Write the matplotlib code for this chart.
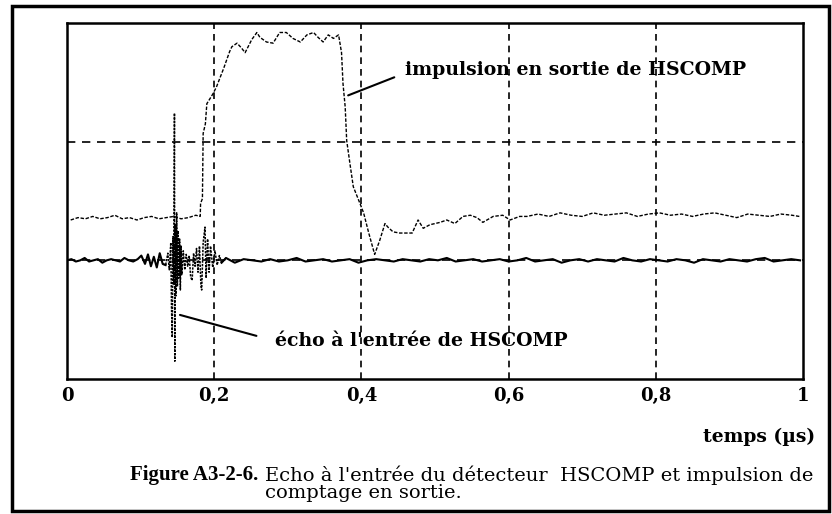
import numpy as np
import matplotlib.pyplot as plt
from matplotlib.patches import Rectangle

# temps en µs, amplitudes en divisions (grille : 3 divisions verticales)
xticks = [0.0, 0.2, 0.4, 0.6, 0.8, 1.0]
xtick_labels = ['0', '0,2', '0,4', '0,6', '0,8', '1']
yticks_grid = [1.0, 2.0]

# impulsion en sortie de HSCOMP
pulse_t = [0.005, 0.015, 0.025, 0.035, 0.045, 0.055, 0.065, 0.075, 0.085, 0.095,
           0.105, 0.115, 0.125, 0.135, 0.145, 0.155, 0.165, 0.175, 0.181,
           0.1815, 0.184, 0.185, 0.188, 0.190, 0.194, 0.198, 0.203, 0.208, 0.213,
           0.217, 0.221,
           0.224, 0.231, 0.237, 0.242, 0.251, 0.258, 0.262, 0.271, 0.280, 0.289,
           0.298, 0.307, 0.317, 0.326, 0.335, 0.341, 0.348, 0.355, 0.362, 0.369,
           0.373, 0.375, 0.378, 0.380, 0.385, 0.389, 0.398, 0.403, 0.410, 0.418,
           0.425, 0.432, 0.436, 0.443, 0.452, 0.462, 0.469, 0.477, 0.484, 0.493,
           0.507, 0.516, 0.527, 0.538, 0.548, 0.557, 0.565, 0.579, 0.592, 0.602,
           0.615, 0.625,
           0.640, 0.655, 0.670, 0.685, 0.700, 0.715, 0.730, 0.745, 0.760, 0.775,
           0.790, 0.805, 0.820, 0.835, 0.850, 0.865, 0.880, 0.895, 0.910, 0.925,
           0.940, 0.955, 0.970, 0.985, 0.995]
pulse_v = [1.34, 1.36, 1.35, 1.37, 1.35, 1.36, 1.38, 1.35, 1.36, 1.34,
           1.36, 1.37, 1.35, 1.36, 1.37, 1.35, 1.36, 1.38, 1.37,
           1.48, 1.52, 2.07, 2.15, 2.32, 2.36, 2.40, 2.46, 2.54, 2.62,
           2.69, 2.76,
           2.80, 2.83, 2.79, 2.75, 2.86, 2.92, 2.88, 2.84, 2.83, 2.92,
           2.92, 2.87, 2.84, 2.90, 2.92, 2.88, 2.84, 2.90, 2.87, 2.90,
           2.75, 2.49, 2.29, 2.01, 1.79, 1.62, 1.48, 1.40, 1.23, 1.05,
           1.17, 1.31, 1.28, 1.24, 1.23, 1.23, 1.23, 1.34, 1.27, 1.30,
           1.32, 1.34, 1.31, 1.37, 1.38, 1.36, 1.32, 1.37, 1.38, 1.34,
           1.37, 1.37,
           1.39, 1.37, 1.40, 1.38, 1.37, 1.40, 1.38, 1.39, 1.40, 1.37,
           1.39, 1.40, 1.38, 1.39, 1.37, 1.39, 1.40, 1.38, 1.36, 1.39,
           1.38, 1.37, 1.39, 1.38, 1.37]

# écho à l'entrée de HSCOMP
echo_t = [0.000, 0.006, 0.012, 0.018, 0.024, 0.030, 0.036, 0.042, 0.048, 0.054,
          0.060, 0.066, 0.072, 0.078, 0.084, 0.090, 0.096, 0.101, 0.106, 0.110,
          0.114, 0.118, 0.122, 0.126, 0.130,
          0.134, 0.137, 0.139, 0.141, 0.142, 0.143, 0.144, 0.145, 0.146, 0.1465,
          0.147, 0.148, 0.149, 0.150, 0.151, 0.152, 0.153, 0.154, 0.155, 0.156,
          0.158, 0.160, 0.162, 0.164, 0.166, 0.168, 0.170, 0.172, 0.174, 0.176,
          0.178, 0.180, 0.182, 0.183, 0.185, 0.1875, 0.189, 0.191, 0.193, 0.195,
          0.198, 0.201, 0.204, 0.207, 0.210,
          0.216, 0.228, 0.240, 0.252, 0.264, 0.276, 0.288, 0.300, 0.312, 0.324,
          0.336, 0.348, 0.360, 0.372, 0.384, 0.396, 0.408, 0.420, 0.432, 0.444,
          0.456, 0.468, 0.480, 0.492, 0.504, 0.516, 0.528, 0.540, 0.552, 0.564,
          0.576, 0.588, 0.600, 0.612, 0.624, 0.636, 0.648, 0.660, 0.672, 0.684,
          0.696, 0.708, 0.720, 0.732, 0.744, 0.756, 0.768, 0.780, 0.792, 0.804,
          0.816, 0.828, 0.840, 0.852, 0.864, 0.876, 0.888, 0.900, 0.912, 0.924,
          0.936, 0.948, 0.960, 0.972, 0.984, 0.996]
echo_v = [1.00, 1.01, 0.99, 1.00, 1.02, 0.99, 1.00, 1.01, 0.98, 1.00,
          1.01, 1.00, 0.99, 1.02, 1.00, 0.99, 1.01, 1.04, 0.97, 1.05,
          0.95, 1.03, 0.94, 1.06, 0.97,
          0.96, 1.06, 0.92, 1.15, 0.60, 0.35, 1.20, 0.80, 2.24, 0.15,
          1.30, 0.70, 1.40, 0.78, 1.25, 0.85, 1.18, 0.75, 1.12, 0.88,
          1.08, 0.92, 1.05, 0.95, 1.04, 0.86, 0.83, 1.06, 0.95, 1.10,
          0.90, 1.12, 0.78, 0.75, 1.15, 1.28, 0.85, 1.18, 0.90, 1.12,
          0.94, 1.08, 0.96, 1.04, 0.98,
          1.02, 0.98, 1.01, 1.00, 0.99, 1.01, 0.99, 1.00, 1.02, 0.99,
          1.00, 1.01, 0.99, 1.00, 1.01, 0.98, 1.00, 1.01, 1.00, 0.99,
          1.01, 1.00, 0.99, 1.01, 1.00, 1.02, 0.99, 1.00, 1.01, 0.99,
          1.00, 1.01, 0.99, 1.00, 1.02, 0.99, 1.00, 1.01, 0.98, 1.00,
          1.01, 0.99, 1.01, 1.00, 0.99, 1.02, 1.00, 0.99, 1.01, 1.00,
          0.99, 1.01, 1.00, 0.98, 1.01, 1.00, 0.99, 1.01, 1.00, 0.99,
          1.01, 1.02, 0.99, 1.00, 1.01, 1.00]

W, H = 832, 514
fig = plt.figure(figsize=(W / 100, H / 100), dpi=100)
ax = fig.add_axes([67 / W, 1 - 379 / H, (803 - 67) / W, (379 - 23) / H])
ax.set_xlim(0, 1)
ax.set_ylim(0, 3)

# grille en pointillés
for t in xticks[1:-1]:
    ax.axvline(t, color='black', lw=1.2, ls=(0, (4, 3)), zorder=1)
for y in yticks_grid:
    ax.axhline(y, color='black', lw=1.2, ls=(0, (5, 4)), zorder=1)

# écho : ligne de base pleine, salve d'oscillations en trait fin pointillé
echo_t = np.array(echo_t)
echo_v = np.array(echo_v)
burst = (echo_t >= 0.130) & (echo_t <= 0.216)
ax.plot(echo_t, np.where(echo_t <= 0.134, echo_v, np.nan), color='black', lw=1.5, zorder=3)
ax.plot(echo_t, np.where(echo_t >= 0.210, echo_v, np.nan), color='black', lw=1.5, zorder=3)
ax.plot(echo_t[burst], echo_v[burst], color='black', lw=1.1, ls=(0, (1.5, 0.8)), zorder=3)

ax.plot(pulse_t, pulse_v, color='black', lw=1.0, ls=(0, (2.5, 1.2)), zorder=3)

for s in ax.spines.values():
    s.set_linewidth(1.8)

ax.set_xticks(xticks)
ax.set_xticklabels(xtick_labels, family='DejaVu Serif', fontweight='bold', fontsize=13)
ax.set_yticks([])
ax.tick_params(axis='x', length=0, pad=6)

bold_font = dict(family='DejaVu Serif', fontweight='bold', fontsize=13.6)
ax.annotate('impulsion en sortie de HSCOMP', xy=(0.382, 2.39), xytext=(0.459, 2.60),
            ha='left', va='center', **bold_font,
            arrowprops=dict(arrowstyle='-', lw=1.5, color='black', relpos=(0, 0.35),
                            shrinkA=6, shrinkB=0))
ax.annotate("écho à l'entrée de HSCOMP", xy=(0.1535, 0.54), xytext=(0.283, 0.32),
            ha='left', va='center', **bold_font,
            arrowprops=dict(arrowstyle='-', lw=1.5, color='black', relpos=(0, 0.5),
                            shrinkA=12, shrinkB=0))

fig.text(815 / W, 1 - 437 / H, 'temps (µs)', ha='right', va='center',
         family='DejaVu Serif', fontweight='bold', fontsize=13.5)

fig.text(130 / W, 1 - 475 / H, 'Figure A3-2-6.', ha='left', va='center',
         family='Liberation Serif', fontweight='bold', fontsize=15)
fig.text(265 / W, 1 - 475 / H, "Echo à l'entrée du détecteur  HSCOMP et impulsion de",
         ha='left', va='center', family='DejaVu Serif', fontsize=14)
fig.text(265 / W, 1 - 493 / H, 'comptage en sortie.', ha='left', va='center',
         family='DejaVu Serif', fontsize=14)

# cadre extérieur
fig.patches.append(Rectangle((12 / W, 1 - 511 / H), (829 - 12) / W, (511 - 6) / H,
                             transform=fig.transFigure, fill=False, lw=2.5,
                             edgecolor='black'))

fig.savefig('out.png', dpi=100)
